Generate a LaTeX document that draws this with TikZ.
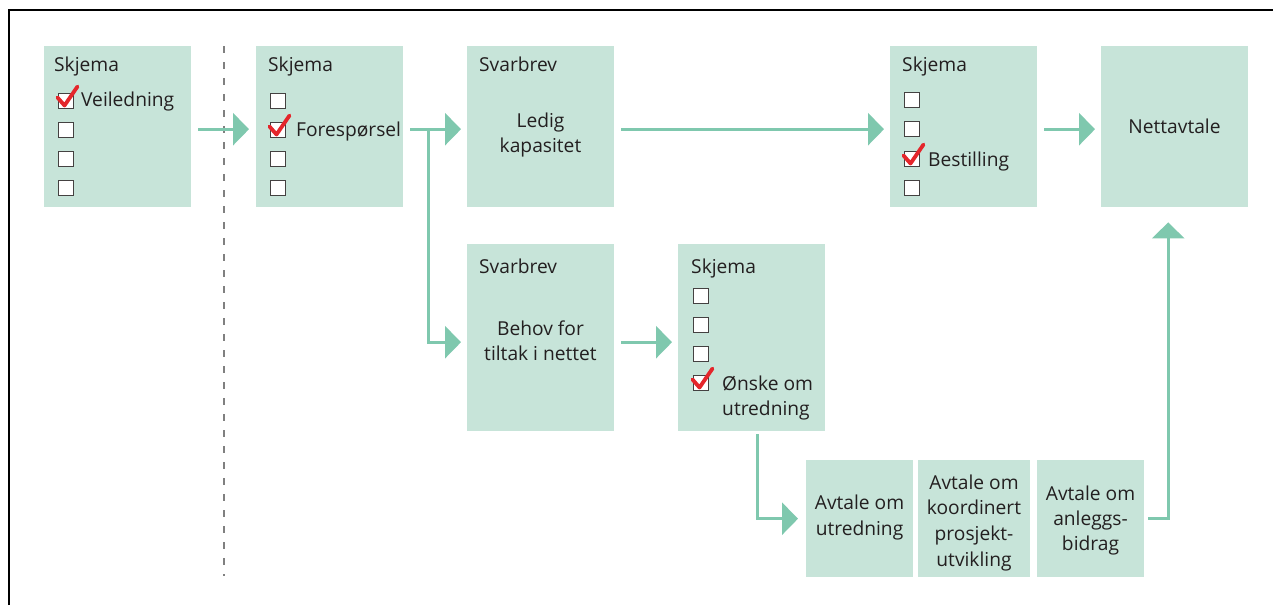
\documentclass[tikz,border=0pt]{standalone}
\usepackage{fontspec}
\setmainfont{Open Sans}
\usetikzlibrary{arrows.meta}
\definecolor{boxfill}{HTML}{C7E4D9}
\definecolor{flowgreen}{HTML}{7FC8AE}
\definecolor{ink}{HTML}{231F20}
\definecolor{tickred}{HTML}{E4262B}
\begin{document}
\begin{tikzpicture}[x=1pt,y=-1pt,
  stage/.style={fill=boxfill, draw=none, inner sep=0pt, anchor=north west,
                minimum width=147pt, minimum height=161pt},
  lbl/.style={font=\fontsize{19.2}{22}\selectfont, text=ink, inner sep=0pt, anchor=base west},
  ctr/.style={lbl, anchor=base},
  chk/.style={draw=ink!85, fill=white, line width=1.1pt, minimum size=15pt,
              inner sep=0pt, anchor=north west},
  tick/.style={draw=tickred, line width=3.8pt, line cap=round, line join=round},
  flow/.style={draw=flowgreen, line width=3pt, -{Triangle[length=16pt,width=32pt]}}]
\useasboundingbox (0,0) rectangle (1273,605);

% frame
\draw[line width=2pt] (9,605) -- (9,10) -- (1273,10);
% separator
\coordinate (sepT) at (224,46);
\coordinate (sepB) at (224,576);
\draw[gray, line width=1.3pt, dash pattern=on 7pt off 9pt] (sepT) -- (sepB);

% boxes
\node[stage] (A) at (44,46) {};
\node[stage] (B) at (256,46) {};
\node[stage] (C) at (467,46) {};
\node[stage] (D) at (890,46) {};
\node[stage] (E) at (1101,46) {};
\node[stage, minimum height=187pt] (F) at (467,244) {};
\node[stage, minimum height=187pt] (G) at (678,244) {};
\node[stage, minimum width=107pt, minimum height=117pt] (H) at (806,460) {};
\node[stage, minimum width=112pt, minimum height=117pt] (I) at (918,460) {};
\node[stage, minimum width=107pt, minimum height=117pt] (J) at (1037,460) {};

% box A
\node[lbl] (At) at (54,71) {Skjema};
\node[chk] (A1) at (58,93) {};
\node[chk] (A2) at (58,122) {};
\node[chk] (A3) at (58,151) {};
\node[chk] (A4) at (58,180) {};
\node[lbl] (Ax) at (81,106) {Veiledning};
\draw[tick] ([shift={(-0.5,4.5)}]A1.north west) -- ([shift={(6.5,12.5)}]A1.north west) -- ([shift={(19.5,-6.5)}]A1.north west);

% box B
\node[lbl] (Bt) at (268,71) {Skjema};
\node[chk] (B1) at (270,93) {};
\node[chk] (B2) at (270,122) {};
\node[chk] (B3) at (270,151) {};
\node[chk] (B4) at (270,180) {};
\node[lbl] (Bx) at (296,136) {Forespørsel};
\draw[tick] ([shift={(-0.5,4.5)}]B2.north west) -- ([shift={(6.5,12.5)}]B2.north west) -- ([shift={(19.5,-6.5)}]B2.north west);

% box C
\node[lbl] (Ct) at (479,71) {Svarbrev};
\node[ctr] (C1) at (540.5,127) {Ledig};
\node[ctr] (C2) at (540.5,152) {kapasitet};

% box D
\node[lbl] (Dt) at (902,71) {Skjema};
\node[chk] (D1) at (904,92) {};
\node[chk] (D2) at (904,121) {};
\node[chk] (D3) at (904,151) {};
\node[chk] (D4) at (904,180) {};
\node[lbl] (Dx) at (928,166) {Bestilling};
\draw[tick] ([shift={(-0.5,4.5)}]D3.north west) -- ([shift={(6.5,12.5)}]D3.north west) -- ([shift={(19.5,-6.5)}]D3.north west);

% box E
\node[ctr] (E1) at (1174.5,133) {Nettavtale};

% box F
\node[lbl] (Ft) at (479,273) {Svarbrev};
\node[ctr] (F1) at (540.5,335) {Behov for};
\node[ctr] (F2) at (540.5,360) {tiltak i nettet};

% box G
\node[lbl] (Gt) at (691,273) {Skjema};
\node[chk] (G1) at (693,288) {};
\node[chk] (G2) at (693,317) {};
\node[chk] (G3) at (693,346) {};
\node[chk] (G4) at (693,375) {};
\node[lbl] (Gx) at (722,390) {Ønske om};
\node[lbl] (Gy) at (722,415) {utredning};
\draw[tick] ([shift={(-0.5,4.5)}]G4.north west) -- ([shift={(6.5,12.5)}]G4.north west) -- ([shift={(19.5,-6.5)}]G4.north west);

% bottom agreements
\node[ctr] (H1) at (859.5,509) {Avtale om};
\node[ctr] (H2) at (859.5,535) {utredning};
\node[ctr] (I1) at (974,489) {Avtale om};
\node[ctr] (I2) at (974,514) {koordinert};
\node[ctr] (I3) at (974,540) {prosjekt-};
\node[ctr] (I4) at (974,566) {utvikling};
\node[ctr] (J1) at (1090.5,500) {Avtale om};
\node[ctr] (J2) at (1090.5,525) {anleggs-};
\node[ctr] (J3) at (1090.5,550) {bidrag};

% flow arrows
\draw[flow] ([shift={(7,2.5)}]A.east) -- ([shift={(-7,2.5)}]B.west);
\draw[flow] ([shift={(7,2.5)}]B.east) -- ([shift={(-6,2.5)}]C.west);
\coordinate (split) at (428,129);
\draw[flow] (split) |- ([shift={(-6,4.5)}]F.west);
\draw[flow] ([shift={(7,2.5)}]C.east) -- ([shift={(-6,2.5)}]D.west);
\draw[flow] ([shift={(7,2.5)}]D.east) -- ([shift={(-6,2.5)}]E.west);
\draw[flow] ([shift={(7,4.5)}]F.east) -- ([shift={(-6,4.5)}]G.west);
\draw[flow] ([shift={(79,3)}]G.south west) |- ([xshift=-8pt]H.west);
\draw[flow] ([xshift=4pt]J.east) -| ([shift={(-6.5,15)}]E.south);
\end{tikzpicture}
\end{document}
